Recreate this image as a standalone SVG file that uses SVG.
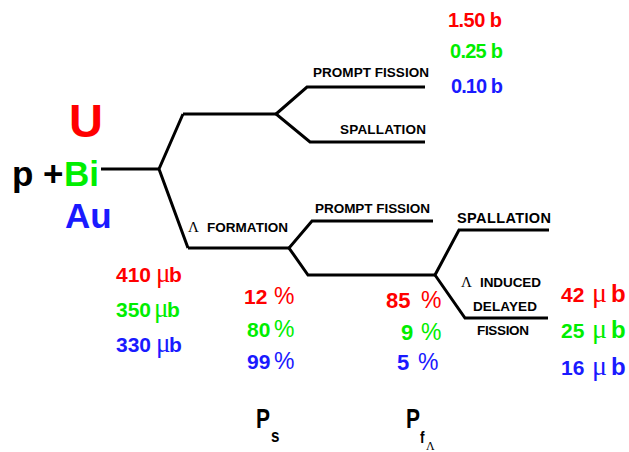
<svg xmlns="http://www.w3.org/2000/svg" width="629" height="452" viewBox="0 0 629 452">
<style>
.ln{fill:none;stroke:#000;stroke-width:3;stroke-linejoin:miter}
.lb{font-family:"Liberation Sans",Arial,sans-serif;font-weight:bold;fill:#000}
.big{font-family:"Liberation Sans",Arial,sans-serif;font-weight:bold}
.num{font-family:"Liberation Sans",Arial,sans-serif;font-weight:bold}
.pc{font-weight:normal}
.mu{font-family:"Liberation Serif","Times New Roman",serif;font-weight:normal}
.lam{font-family:"Liberation Serif","Times New Roman",serif;fill:#000}
.r{fill:#ff0000}.g{fill:#00ee00}.b{fill:#1a1aff}
.P{font-family:"Liberation Sans",Arial,sans-serif;fill:#000}
</style>
<rect width="629" height="452" fill="#fff"/>
<g id="connectors">
<path class="ln" d="M101,169 H159"/>
<path class="ln" d="M183,114 L159,169 L188,248"/>
<path class="ln" d="M183,114 H276"/>
<path class="ln" d="M425,87 H307 L276,114 L310,142 H425"/>
<path class="ln" d="M188,248 H289"/>
<path class="ln" d="M433,221 H312 L289,248 L308,275 H435"/>
<path class="ln" d="M549,230 H459 L435,275 L465,318 H548"/>
</g>
<g id="target">
<text class="big r" x="86" y="137" font-size="47" text-anchor="middle">U</text>
<text class="big" x="12" y="186" font-size="35"><tspan fill="#000">p +</tspan><tspan class="g" x="64">Bi</tspan></text>
<text class="big b" x="65" y="228" font-size="35">Au</text>
</g>
<g id="prompt-fission-1"><text class="lb" x="313" y="77" font-size="13.5" textLength="116">PROMPT FISSION</text></g>
<g id="spallation-1"><text class="lb" x="340" y="134" font-size="13.5" textLength="86">SPALLATION</text></g>
<g id="top-values">
<text class="num r" x="448" y="27" font-size="20" textLength="54">1.50 b</text>
<text class="num g" x="450" y="58" font-size="20" textLength="53">0.25 b</text>
<text class="num b" x="451" y="93" font-size="20" textLength="52">0.10 b</text>
</g>
<g id="lambda-formation"><text class="lam" x="188" y="232" font-size="15">Λ</text><text class="lb" x="207" y="232" font-size="13.5" textLength="81">FORMATION</text></g>
<g id="prompt-fission-2"><text class="lb" x="315" y="213" font-size="13.5" textLength="115">PROMPT FISSION</text></g>
<g id="spallation-2"><text class="lb" x="457" y="223" font-size="14.5" textLength="94">SPALLATION</text></g>
<g id="lambda-induced-delayed-fission">
<text class="lam" x="461" y="287" font-size="15">Λ</text><text class="lb" x="480" y="287" font-size="13.5" textLength="61">INDUCED</text>
<text class="lb" x="473" y="311" font-size="13.5" textLength="64">DELAYED</text>
<text class="lb" x="477" y="335" font-size="13.5" textLength="52">FISSION</text>
</g>
<g id="formation-xs">
<text class="num r" x="116" y="282" font-size="21">410<tspan class="mu" x="156" font-size="27">μ</tspan><tspan x="169">b</tspan></text>
<text class="num g" x="116" y="317" font-size="21">350<tspan class="mu" x="154" font-size="27">μ</tspan><tspan x="167">b</tspan></text>
<text class="num b" x="116" y="352" font-size="21">330<tspan class="mu" x="156" font-size="27">μ</tspan><tspan x="169">b</tspan></text>
</g>
<g id="ps-values">
<text class="num r" x="244" y="304" font-size="21">12<tspan class="pc" x="274" font-size="23">%</tspan></text>
<text class="num g" x="247" y="337" font-size="21">80<tspan class="pc" x="274" font-size="23">%</tspan></text>
<text class="num b" x="247" y="369" font-size="21">99<tspan class="pc" x="274" font-size="23">%</tspan></text>
</g>
<g id="pf-values">
<text class="num r" x="386" y="308" font-size="22">85<tspan class="pc" x="421" font-size="23">%</tspan></text>
<text class="num g" x="401" y="340" font-size="22">9<tspan class="pc" x="421" font-size="23">%</tspan></text>
<text class="num b" x="397" y="370" font-size="22">5<tspan class="pc" x="418" font-size="23">%</tspan></text>
</g>
<g id="delayed-xs">
<text class="num r" x="561" y="302" font-size="21">42<tspan class="mu" x="592" font-size="28">μ</tspan><tspan x="611" font-size="24">b</tspan></text>
<text class="num g" x="561" y="338" font-size="21">25<tspan class="mu" x="592" font-size="28">μ</tspan><tspan x="611" font-size="24">b</tspan></text>
<text class="num b" x="561" y="375" font-size="21">16<tspan class="mu" x="592" font-size="28">μ</tspan><tspan x="611" font-size="24">b</tspan></text>
</g>
<g id="Ps">
<text class="P" transform="translate(256,428) scale(0.75,1)" font-size="28" font-weight="bold">P</text>
<text class="P" transform="translate(271,442) scale(0.8,1)" font-size="19" font-weight="bold">s</text>
</g>
<g id="Pf">
<text class="P" transform="translate(406,428) scale(0.75,1)" font-size="28" font-weight="bold">P</text>
<text class="P" transform="translate(420,443) scale(0.8,1)" font-size="17" font-weight="bold">f</text>
<text class="lam" x="426" y="450" font-size="12">Λ</text>
</g>
</svg>
